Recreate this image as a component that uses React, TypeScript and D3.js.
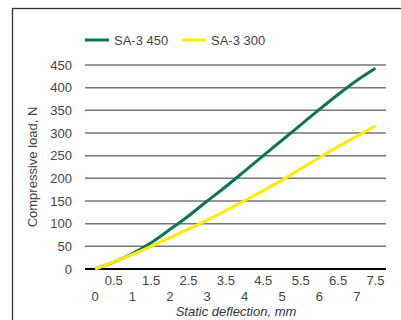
import React from "react";
import * as d3 from "d3";

const deflection = [0, 0.5, 1, 1.5, 2, 2.5, 3, 3.5, 4, 4.5, 5, 5.5, 6, 6.5, 7, 7.5];
const sa3_450 = [0, 15, 34, 58, 87, 117, 150, 182, 216, 250, 284, 318, 352, 385, 416, 443];
const sa3_300 = [0, 15, 32, 50, 69, 88, 108, 129, 151, 173, 196, 221, 246, 270, 293, 316];
const yTicks = [0, 50, 100, 150, 200, 250, 300, 350, 400, 450];
const xIntTicks = [0, 1, 2, 3, 4, 5, 6, 7];
const xHalfTicks = [0.5, 1.5, 2.5, 3.5, 4.5, 5.5, 6.5, 7.5];
const seriesNames = ["SA-3 450", "SA-3 300"];

const GREEN = "#0b7650";
const YELLOW = "#ffec00";
const FONT = "'Liberation Sans', Arial, sans-serif";

export default function App() {
  const x = d3.scaleLinear().domain([0, 7.5]).range([95, 375.5]);
  const y = d3.scaleLinear().domain([0, 450]).range([269, 65]);
  const gx0 = 85, gx1 = 386;
  const line = d3
    .line<number>()
    .x((_, i) => x(deflection[i]))
    .y((d) => y(d))
    .curve(d3.curveMonotoneX);
  const series = [
    { name: seriesNames[0], values: sa3_450, color: GREEN },
    { name: seriesNames[1], values: sa3_300, color: YELLOW },
  ];
  const legendX = [85, 182];
  return (
    <svg
      width={401}
      height={320}
      style={{ position: "absolute", left: 0, top: 0, background: "#fff" }}
      fontFamily={FONT}
    >
      <rect x={12.5} y={8.5} width={400} height={330} fill="#fff" stroke="#333" strokeWidth={1.3} />
      {series.map((s, i) => (
        <g key={s.name}>
          <line x1={legendX[i]} x2={legendX[i] + 24} y1={40} y2={40} stroke={s.color} strokeWidth={3} />
          <text x={legendX[i] + 29} y={44.5} fontSize={13} fill="#444">
            {s.name}
          </text>
        </g>
      ))}
      {yTicks.map((t) => (
        <g key={t}>
          <line
            x1={gx0}
            x2={gx1}
            y1={y(t)}
            y2={y(t)}
            stroke={t === 0 ? "#000" : "#777"}
            strokeWidth={t === 0 ? 2 : 1.5}
          />
          <text x={72} y={y(t) + 4.5} fontSize={13} fill="#444" textAnchor="end">
            {t}
          </text>
        </g>
      ))}
      {xHalfTicks.map((t) => (
        <text key={t} x={x(t)} y={285} fontSize={13} fill="#444" textAnchor="middle">
          {t}
        </text>
      ))}
      {xIntTicks.map((t) => (
        <text key={t} x={x(t)} y={300.5} fontSize={13} fill="#444" textAnchor="middle">
          {t}
        </text>
      ))}
      <text x={236} y={316} fontSize={13} fontStyle="italic" fill="#333" textAnchor="middle">
        Static deflection, mm
      </text>
      <text
        transform={`translate(36.5,167) rotate(-90)`}
        fontSize={13}
        fill="#444"
        textAnchor="middle"
      >
        Compressive load, N
      </text>
      {series.map((s) => (
        <path key={s.name} d={line(s.values) || ""} fill="none" stroke={s.color} strokeWidth={3} />
      ))}
    </svg>
  );
}
